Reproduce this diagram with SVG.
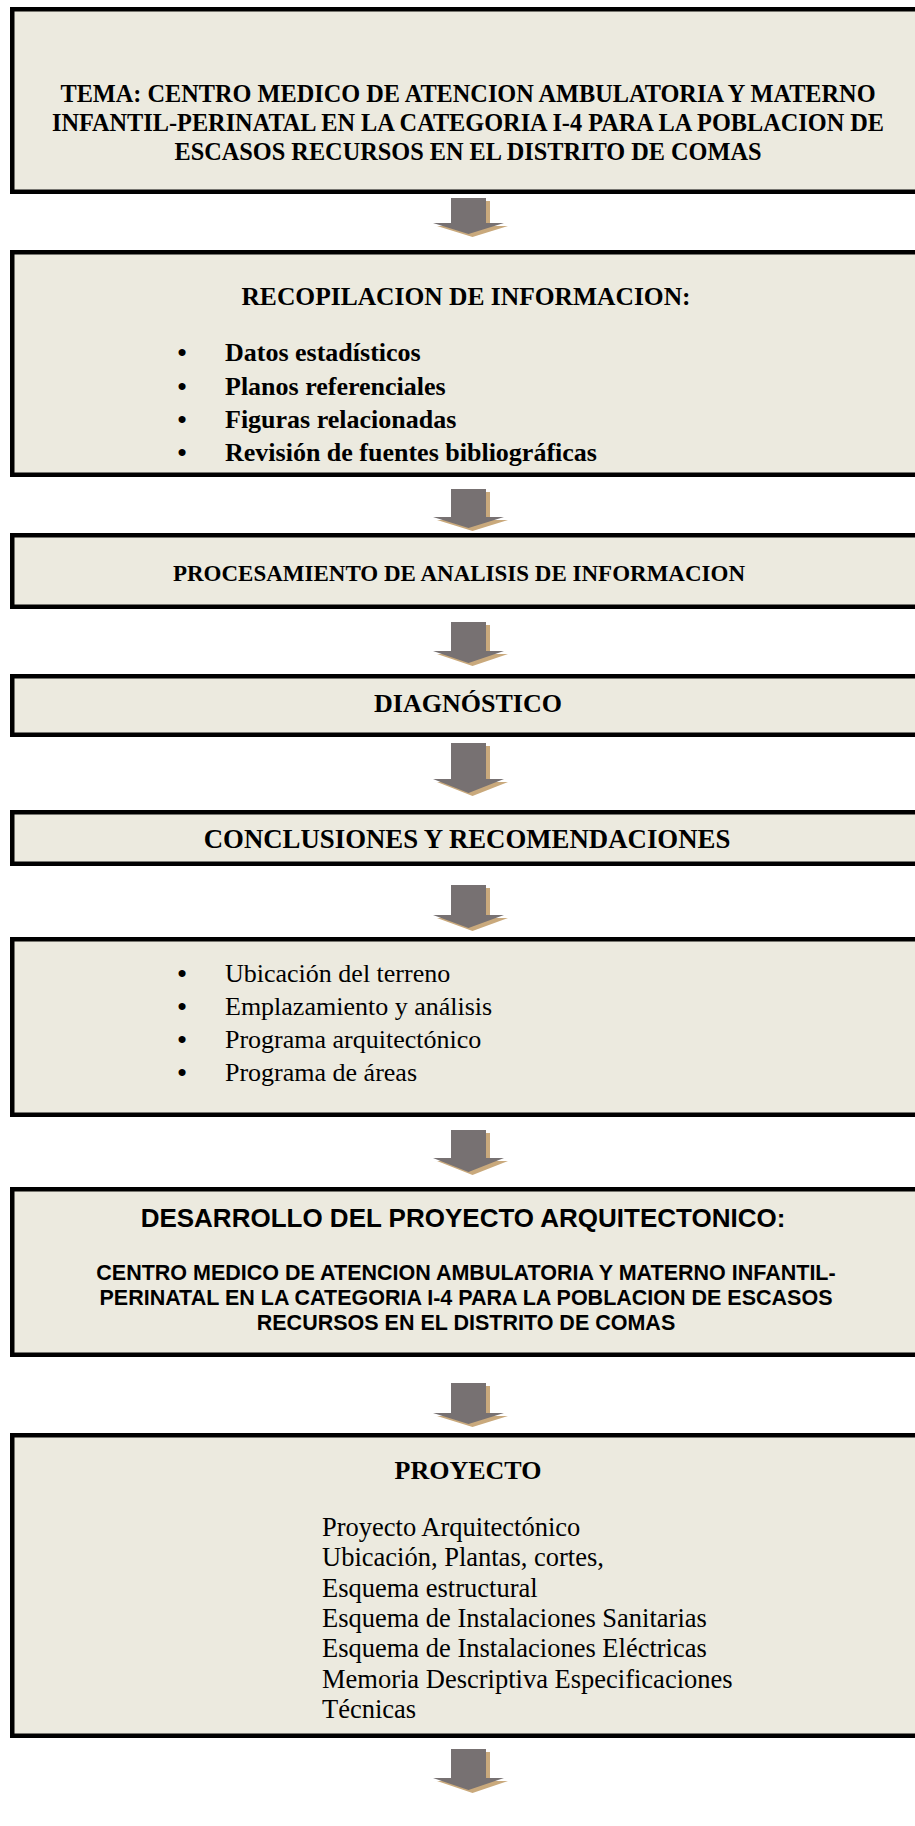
<svg xmlns="http://www.w3.org/2000/svg" width="915" height="1826" viewBox="0 0 915 1826">
<style>
.box{fill:#eceadf;stroke:#000;stroke-width:4.5}
.arr{fill:#777172}
.shd{fill:#c9a97c}
.sb{font-family:"Liberation Serif","Times New Roman",serif;font-weight:bold;fill:#000}
.sr{font-family:"Liberation Serif","Times New Roman",serif;fill:#000}
.ab{font-family:"Liberation Sans",Arial,sans-serif;font-weight:bold;fill:#000}
.c{text-anchor:middle}
</style>
<rect width="915" height="1826" fill="#fff"/>
<g id="connectors">
<g id="a1"><polygon class="shd" points="455,201 490,201 490,226 508,226 472.5,237 437,226 455,226"/><polygon class="arr" points="451,198 486,198 486,223 504,223 468.5,234 433,223 451,223"/></g>
<g id="a2"><polygon class="shd" points="455,492 490,492 490,520 508,520 472.5,531 437,520 455,520"/><polygon class="arr" points="451,489 486,489 486,517 504,517 468.5,528 433,517 451,517"/></g>
<g id="a3"><polygon class="shd" points="455,625 490,625 490,654 508,654 472.5,666 437,654 455,654"/><polygon class="arr" points="451,622 486,622 486,651 504,651 468.5,663 433,651 451,651"/></g>
<g id="a4"><polygon class="shd" points="455,746 490,746 490,782 508,782 472.5,796 437,782 455,782"/><polygon class="arr" points="451,743 486,743 486,779 504,779 468.5,793 433,779 451,779"/></g>
<g id="a5"><polygon class="shd" points="455,888 490,888 490,918 508,918 472.5,931 437,918 455,918"/><polygon class="arr" points="451,885 486,885 486,915 504,915 468.5,928 433,915 451,915"/></g>
<g id="a6"><polygon class="shd" points="455,1133 490,1133 490,1161 508,1161 472.5,1175 437,1161 455,1161"/><polygon class="arr" points="451,1130 486,1130 486,1158 504,1158 468.5,1172 433,1158 451,1158"/></g>
<g id="a7"><polygon class="shd" points="455,1386 490,1386 490,1416 508,1416 472.5,1427 437,1416 455,1416"/><polygon class="arr" points="451,1383 486,1383 486,1413 504,1413 468.5,1424 433,1413 451,1413"/></g>
<g id="a8"><polygon class="shd" points="455,1752 490,1752 490,1781 508,1781 472.5,1793 437,1781 455,1781"/><polygon class="arr" points="451,1749 486,1749 486,1778 504,1778 468.5,1790 433,1778 451,1778"/></g>
</g>
<g id="n1">
<rect class="box" x="12.25" y="9.25" width="920" height="182.5"/>
<text class="sb c" font-size="24.3" x="468" y="102">TEMA: CENTRO MEDICO DE ATENCION AMBULATORIA Y MATERNO</text>
<text class="sb c" font-size="24.3" x="468" y="131">INFANTIL-PERINATAL EN LA CATEGORIA I-4 PARA LA POBLACION DE</text>
<text class="sb c" font-size="24.3" x="468" y="160">ESCASOS RECURSOS EN EL DISTRITO DE COMAS</text>
</g>
<g id="n2">
<rect class="box" x="12.25" y="252.25" width="920" height="222.5"/>
<text class="sb c" font-size="25.5" x="466" y="305">RECOPILACION DE INFORMACION:</text>
<text class="sb c" font-size="26" x="182" y="361">•</text>
<text class="sb" font-size="26" x="225" y="361">Datos estadísticos</text>
<text class="sb c" font-size="26" x="182" y="395">•</text>
<text class="sb" font-size="26" x="225" y="395">Planos referenciales</text>
<text class="sb c" font-size="26" x="182" y="428">•</text>
<text class="sb" font-size="26" x="225" y="428">Figuras relacionadas</text>
<text class="sb c" font-size="26" x="182" y="461">•</text>
<text class="sb" font-size="26" x="225" y="461">Revisión de fuentes bibliográficas</text>
</g>
<g id="n3">
<rect class="box" x="12.25" y="535.25" width="920" height="71.5"/>
<text class="sb c" font-size="23" x="459" y="581">PROCESAMIENTO DE ANALISIS DE INFORMACION</text>
</g>
<g id="n4">
<rect class="box" x="12.25" y="676.25" width="920" height="58.5"/>
<text class="sb c" font-size="26" x="468" y="712">DIAGNÓSTICO</text>
</g>
<g id="n5">
<rect class="box" x="12.25" y="812.25" width="920" height="51.5"/>
<text class="sb c" font-size="26.8" x="467" y="848">CONCLUSIONES Y RECOMENDACIONES</text>
</g>
<g id="n6">
<rect class="box" x="12.25" y="939.25" width="920" height="175.5"/>
<text class="sb c" font-size="26" x="182" y="982">•</text>
<text class="sr" font-size="26" x="225" y="982">Ubicación del terreno</text>
<text class="sb c" font-size="26" x="182" y="1015">•</text>
<text class="sr" font-size="26" x="225" y="1015">Emplazamiento y análisis</text>
<text class="sb c" font-size="26" x="182" y="1048">•</text>
<text class="sr" font-size="26" x="225" y="1048">Programa arquitectónico</text>
<text class="sb c" font-size="26" x="182" y="1081">•</text>
<text class="sr" font-size="26" x="225" y="1081">Programa de áreas</text>
</g>
<g id="n7">
<rect class="box" x="12.25" y="1189.25" width="920" height="165.5"/>
<text class="ab c" font-size="26" x="463" y="1227">DESARROLLO DEL PROYECTO ARQUITECTONICO:</text>
<text class="ab c" font-size="21.5" x="466" y="1280">CENTRO MEDICO DE ATENCION AMBULATORIA Y MATERNO INFANTIL-</text>
<text class="ab c" font-size="21.5" x="466" y="1305">PERINATAL EN LA CATEGORIA I-4 PARA LA POBLACION DE ESCASOS</text>
<text class="ab c" font-size="21.5" x="466" y="1330">RECURSOS EN EL DISTRITO DE COMAS</text>
</g>
<g id="n8">
<rect class="box" x="12.25" y="1435.25" width="920" height="300.5"/>
<text class="sb c" font-size="26" x="468" y="1479">PROYECTO</text>
<text class="sr" font-size="26.5" x="322" y="1536">Proyecto Arquitectónico</text>
<text class="sr" font-size="26.5" x="322" y="1566">Ubicación, Plantas, cortes,</text>
<text class="sr" font-size="26.5" x="322" y="1597">Esquema estructural</text>
<text class="sr" font-size="26.5" x="322" y="1627">Esquema de Instalaciones Sanitarias</text>
<text class="sr" font-size="26.5" x="322" y="1657">Esquema de Instalaciones Eléctricas</text>
<text class="sr" font-size="26.5" x="322" y="1688">Memoria Descriptiva Especificaciones</text>
<text class="sr" font-size="26.5" x="322" y="1718">Técnicas</text>
</g>
</svg>
